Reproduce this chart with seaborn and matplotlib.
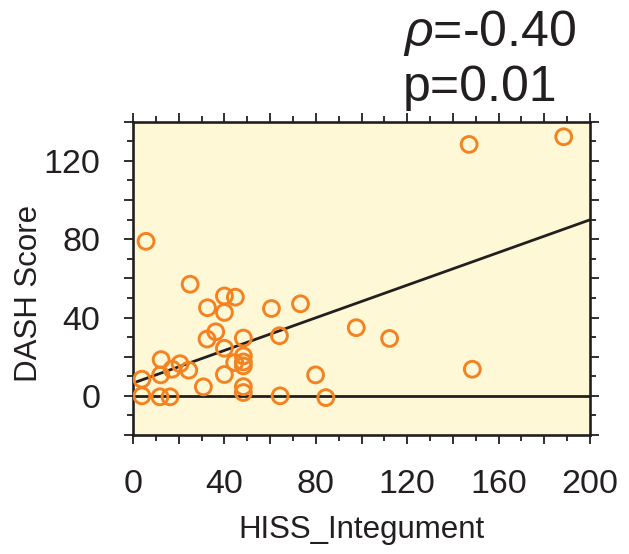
import numpy as np
import pandas as pd
import matplotlib
matplotlib.use("Agg")
import matplotlib.pyplot as plt
from matplotlib.ticker import MultipleLocator, FuncFormatter
import seaborn as sns

# HISS integument score vs DASH score per patient
hiss_integument = [25, 32.6, 40, 44.8, 40, 60.6, 73.3, 97.7, 36.2, 32.4,
                   48.3, 64.1, 40, 12.3, 20.6, 17.1, 24.4, 12.1, 3.9, 40,
                   44.5, 48.3, 48.3, 48.3, 30.8, 48.3, 48.3, 3.9, 11.8, 16.2,
                   64.4, 79.9, 84.4, 112.3, 148.5, 147.1, 188.5, 5.7]
dash_score = [57, 45, 51, 50.4, 42.6, 44.6, 47, 34.8, 32.7, 29,
              29.5, 30.7, 24.3, 18.5, 16.4, 13.6, 13.1, 10.7, 8.5, 10.9,
              17, 20.4, 17.3, 15.3, 4.6, 4.7, 1.7, 0, -0.5, -0.5,
              0, 10.7, -0.9, 29.3, 13.6, 128.4, 132.3, 78.9]

# linear fit reported with the correlation
fit_intercept = 6.5
fit_slope = 0.417

rho_text = "$\\rho$=-0.40"
p_text = "p=0.01"

x_range = [0, 200]
y_range = [-20, 140]

df = pd.DataFrame({"HISS_Integument": hiss_integument, "DASH Score": dash_score})
fit_x = np.array(x_range, dtype=float)
fit_df = pd.DataFrame({"x": fit_x, "y": fit_intercept + fit_slope * fit_x})

sns.set_theme(style="ticks")
plt.rcParams["font.family"] = ["Liberation Sans", "DejaVu Sans"]
plt.rcParams["mathtext.fontset"] = "custom"
plt.rcParams["mathtext.it"] = "Liberation Sans:italic"
plt.rcParams["mathtext.rm"] = "Liberation Sans"

ink = "#231F20"
orange = "#F58220"

fig = plt.figure(figsize=(6.29, 5.54), dpi=100)
ax = fig.add_axes([133 / 629, 1 - 435 / 554, (590 - 133) / 629, (435 - 121.7) / 554])
ax.set_facecolor("#FEF8D6")

ax.axhline(0, color=ink, lw=2.0, zorder=1)
sns.lineplot(data=fit_df, x="x", y="y", ax=ax, color=ink, lw=2.0, zorder=2)
sns.scatterplot(data=df, x="HISS_Integument", y="DASH Score", ax=ax,
                marker="o", s=130, facecolor="none", edgecolor=orange,
                linewidth=2.1, zorder=3)
ax.set_xlim(*x_range)
ax.set_ylim(*y_range)

ax.xaxis.set_major_locator(MultipleLocator(20))
ax.xaxis.set_minor_locator(MultipleLocator(10))
ax.yaxis.set_major_locator(MultipleLocator(20))
ax.yaxis.set_minor_locator(MultipleLocator(10))
every40 = FuncFormatter(lambda v, pos: f"{v:.0f}" if round(v) % 40 == 0 and v >= 0 else "")
ax.xaxis.set_major_formatter(every40)
ax.yaxis.set_major_formatter(every40)

for side in ax.spines.values():
    side.set_color(ink)
    side.set_linewidth(1.9)
ax.tick_params(which="both", direction="out", top=True, right=True,
               color=ink, width=1.3, labelcolor=ink)
ax.tick_params(which="major", length=6.5, labelsize=24.5)
ax.tick_params(which="minor", length=4)
ax.tick_params(axis="y", which="major", pad=17)
ax.tick_params(axis="x", which="major", pad=18)

ax.set_xlabel("HISS_Integument", fontsize=22.5, color=ink)
ax.set_ylabel("DASH Score", fontsize=22.5, color=ink)
ax.xaxis.set_label_coords(0.501, -0.255)
ax.yaxis.set_label_coords(-0.195, 0.453)

fig.text(403 / 629, 1 - 46 / 554, rho_text, fontsize=36, color=ink, ha="left", va="baseline")
fig.text(403 / 629, 1 - 101 / 554, p_text, fontsize=36, color=ink, ha="left", va="baseline")

fig.savefig("out.png", dpi=100, facecolor="white")
